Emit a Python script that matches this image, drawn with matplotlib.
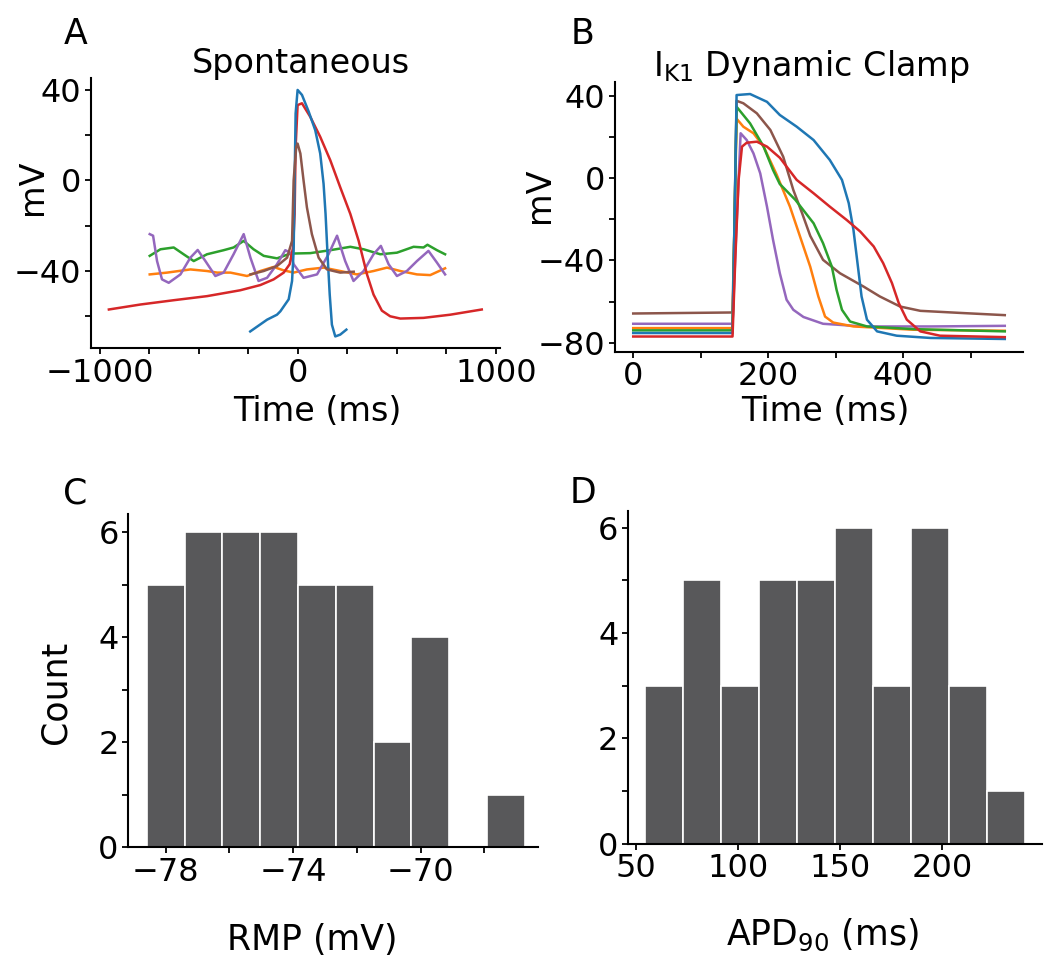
import matplotlib
matplotlib.use("Agg")
import matplotlib.pyplot as plt
from matplotlib.ticker import FixedLocator
import numpy as np

plt.rcParams['font.family'] = ['DejaVu Sans']
plt.rcParams['mathtext.default'] = 'regular'

# ---- panel A: spontaneous traces (time ms, voltage mV) ----
a_red_t = [-953, -794, -626, -458, -290, -189, -122, -71, -41, -24, -16, -11, -1, 21, 63, 113,
           164, 214, 265, 307, 349, 382, 424, 466, 517, 634, 769, 928]
a_red_v = [-57.0, -54.8, -52.9, -51.1, -48.5, -46.2, -43.7, -40.7, -37.0, -29.6, -14.8, 14.8, 33.3,
           34.1, 28.1, 19.3, 8.9, -3.0, -14.8, -26.7, -41.5, -50.4, -57.5, -60.0, -61.0, -60.7, -59.3, -57.0]
a_blue_t = [-240, -155, -105, -88, -46, -29, -21, -16, -11, -1, 21, 55, 88, 113, 130, 140, 150, 161,
            172, 189, 214, 245]
a_blue_v = [-66.7, -61.5, -59.3, -57.8, -52.5, -44.4, -31.0, 0.0, 29.6, 40.0, 37.8, 30.4, 22.2, 11.9,
            -1.5, -14.8, -32.6, -50.4, -63.7, -68.9, -68.1, -65.9]
a_brown_t = [-239, -172, -105, -54, -29, -21, -8, -1, 13, 29, 46, 71, 105, 147, 214, 282]
a_brown_v = [-41.5, -40.0, -37.8, -34.1, -26.7, 0.0, 14.8, 16.3, 11.9, 0.0, -11.9, -23.7, -34.1,
             -39.3, -40.7, -40.3]
a_green_t = [-747, -693, -626, -576, -525, -458, -374, -324, -273, -223, -172, -105, -38, 63, 164,
             265, 332, 416, 500, 584, 634, 654, 702, 743]
a_green_v = [-33.3, -30.4, -29.6, -32.6, -35.6, -32.6, -30.8, -29.6, -26.7, -30.4, -33.3, -34.4,
             -32.3, -32.1, -30.8, -29.3, -30.4, -32.6, -31.9, -29.3, -29.6, -28.4, -30.8, -32.6]
a_orange_t = [-747, -659, -542, -458, -407, -340, -256, -189, -122, -72, -21, 46, 130, 214, 298,
              382, 450, 517, 601, 668, 743]
a_orange_v = [-41.5, -40.7, -39.3, -40.0, -40.7, -40.7, -42.2, -40.0, -38.2, -39.7, -40.7, -39.3,
              -38.5, -40.0, -41.5, -40.0, -38.5, -40.0, -41.5, -41.8, -38.8]
a_purple_t = [-747, -730, -710, -685, -651, -592, -542, -505, -466, -416, -374, -324, -273, -239,
              -198, -155, -105, -63, -38, -21, 29, 97, 155, 198, 239, 281, 332, 382, 419, 458, 500,
              550, 601, 659, 702, 743]
a_purple_v = [-23.7, -24.4, -35.6, -43.7, -45.2, -41.5, -34.1, -30.7, -35.6, -42.2, -40.7, -32.6,
              -23.7, -34.1, -44.4, -43.0, -37.0, -30.8, -31.9, -37.0, -43.0, -41.5, -32.6, -24.4,
              -35.6, -44.4, -40.0, -32.6, -28.9, -37.0, -42.2, -40.0, -35.6, -31.1, -36.3, -41.5]

# ---- panel B: IK1 dynamic clamp traces ----
b_blue_t = [0, 147, 150, 153, 173, 198, 217, 242, 267, 291, 309, 319, 326, 332, 338, 346, 361, 390, 440, 550]
b_blue_v = [-75.3, -75.3, -20, 40.5, 41.0, 37.2, 30.8, 25.1, 18.6, 8.9, -0.8, -12.1, -25.1, -41.3,
            -57.5, -68.8, -74.5, -76.6, -77.7, -78.2]
b_red_t = [0, 147, 151, 156, 161, 168, 183, 198, 217, 242, 267, 291, 316, 336, 356, 370, 383, 393,
           405, 425, 454, 550]
b_red_v = [-77.0, -77.0, -40, -0.8, 15.4, 17.3, 17.8, 15.4, 10.0, -0.8, -7.3, -13.8, -20.3, -25.9,
           -33.2, -41.3, -51.0, -60.7, -68.8, -74.5, -76.6, -77.3]
b_brown_t = [0, 147, 150, 153, 163, 183, 203, 222, 237, 250, 262, 281, 306, 341, 365, 395, 425, 489, 550]
b_brown_v = [-65.8, -65.3, -20, 37.7, 36.5, 31.6, 23.5, 10.5, -5.7, -17.0, -28.0, -39.7, -46.2,
             -52.7, -57.5, -62.4, -64.5, -65.6, -66.6]
b_green_t = [0, 147, 150, 153, 173, 193, 207, 217, 240, 267, 281, 294, 301, 309, 321, 346, 415, 550]
b_green_v = [-74.0, -74.0, -20, 34.8, 26.7, 15.4, 4.0, -2.8, -10.5, -21.9, -31.6, -43.0, -54.3,
             -64.0, -69.7, -72.1, -73.4, -74.5]
b_orange_t = [0, 147, 150, 153, 163, 178, 193, 212, 232, 247, 262, 274, 284, 296, 326, 415, 550]
b_orange_v = [-72.9, -72.9, -20, 29.0, 25.1, 21.9, 15.4, 2.0, -13.8, -28.4, -43.0, -57.5, -67.3,
              -70.2, -72.1, -73.7, -74.2]
b_purple_t = [0, 147, 152, 159, 168, 178, 188, 198, 207, 217, 227, 237, 252, 281, 341, 440, 550]
b_purple_v = [-70.8, -70.8, -30, 21.9, 18.6, 12.1, 2.4, -13.8, -30.0, -46.2, -59.1, -64.0, -67.5,
              -70.8, -72.1, -72.1, -71.8]

# ---- panels C, D: histograms ----
rmp_edges = [-78.60, -77.41, -76.23, -75.04, -73.86, -72.67, -71.48, -70.30, -69.11, -67.93, -66.74]
rmp_counts = [5, 6, 6, 6, 5, 5, 2, 4, 0, 1]
apd_edges = [54.7, 73.2, 91.8, 110.3, 128.9, 147.4, 166.0, 184.5, 203.1, 221.6, 240.2]
apd_counts = [3, 5, 3, 5, 5, 6, 3, 6, 3, 1]

C_BLUE, C_ORANGE, C_GREEN = '#1f77b4', '#ff7f0e', '#2ca02c'
C_RED, C_PURPLE, C_BROWN = '#d62728', '#9467bd', '#8c564b'
BAR = '#58585a'

fig = plt.figure(figsize=(10.5, 9.61), dpi=100)
axA = fig.add_axes([0.0867, 0.6379, 0.3895, 0.2810])
axB = fig.add_axes([0.5857, 0.6340, 0.3886, 0.2810])
axC = fig.add_axes([0.1223, 0.1186, 0.3901, 0.3463])
axD = fig.add_axes([0.5981, 0.1220, 0.3939, 0.3465])


def style(ax, fs):
    for s in ['top', 'right']:
        ax.spines[s].set_visible(False)
    for s in ['left', 'bottom']:
        ax.spines[s].set_linewidth(1.5)
    ax.tick_params(which='both', direction='out', length=4, width=1.3, labelsize=fs, pad=3)


lw = 1.8
for t, v, c in [(a_green_t, a_green_v, C_GREEN), (a_orange_t, a_orange_v, C_ORANGE),
                (a_purple_t, a_purple_v, C_PURPLE), (a_red_t, a_red_v, C_RED),
                (a_blue_t, a_blue_v, C_BLUE), (a_brown_t, a_brown_v, C_BROWN)]:
    axA.plot(t, v, color=c, lw=lw)
axA.set_xlim(-1043, 1020)
axA.set_ylim(-74, 45.3)
axA.set_xticks([-1000, 0, 1000])
axA.xaxis.set_minor_locator(FixedLocator([-750, -500, -250, 250, 500, 750]))
axA.set_yticks([-40, 0, 40])
axA.yaxis.set_minor_locator(FixedLocator([-60, -20, 20]))
style(axA, 23)
axA.set_xlabel('Time (ms)', fontsize=24, va='center')
axA.xaxis.set_label_coords(0.554, -0.237)
axA.set_ylabel('mV', fontsize=24, va='center')
axA.yaxis.set_label_coords(-0.142, 0.596)
axA.text(0.513, 1.0185, 'Spontaneous', transform=axA.transAxes, ha='center', va='baseline', fontsize=24)

for t, v, c in [(b_brown_t, b_brown_v, C_BROWN), (b_purple_t, b_purple_v, C_PURPLE),
                (b_orange_t, b_orange_v, C_ORANGE), (b_green_t, b_green_v, C_GREEN),
                (b_blue_t, b_blue_v, C_BLUE), (b_red_t, b_red_v, C_RED)]:
    axB.plot(t, v, color=c, lw=lw)
axB.set_xlim(-27, 577)
axB.set_ylim(-84.4, 47)
axB.set_xticks([0, 200, 400])
axB.xaxis.set_minor_locator(FixedLocator([100, 300, 500]))
axB.set_yticks([-80, -40, 0, 40])
axB.yaxis.set_minor_locator(FixedLocator([-60, -20, 20]))
style(axB, 23)
axB.set_xlabel('Time (ms)', fontsize=24, va='center')
axB.xaxis.set_label_coords(0.515, -0.223)
axB.set_ylabel('mV', fontsize=24, va='center')
axB.yaxis.set_label_coords(-0.184, 0.580)
axB.text(0.48, 1.02, r'I$_{K1}$ Dynamic Clamp', transform=axB.transAxes, ha='center',
         va='baseline', fontsize=24)

axC.bar(rmp_edges[:-1], rmp_counts, width=np.diff(rmp_edges), align='edge', color=BAR,
        edgecolor='white', linewidth=1.2)
axC.set_xlim(-79.17, -66.32)
axC.set_ylim(0, 6.34)
axC.set_xticks([-78, -74, -70])
axC.xaxis.set_minor_locator(FixedLocator([-76, -72, -68]))
axC.set_yticks([0, 2, 4, 6])
axC.yaxis.set_minor_locator(FixedLocator([1, 3, 5]))
style(axC, 23)
axC.set_xlabel('RMP (mV)', fontsize=25, va='center')
axC.xaxis.set_label_coords(0.45, -0.279)
axC.set_ylabel('Count', fontsize=25, va='center')
axC.yaxis.set_label_coords(-0.179, 0.464)

axD.bar(apd_edges[:-1], apd_counts, width=np.diff(apd_edges), align='edge', color=BAR,
        edgecolor='white', linewidth=1.2)
axD.set_xlim(46.3, 248.5)
axD.set_ylim(0, 6.32)
axD.set_xticks([50, 100, 150, 200])
axD.set_yticks([0, 2, 4, 6])
axD.yaxis.set_minor_locator(FixedLocator([1, 3, 5]))
style(axD, 23)
axD.set_xlabel(r'APD$_{90}$ (ms)', fontsize=25, va='center')
axD.xaxis.set_label_coords(0.47, -0.275)

for x, y, s in [(75.5, 44, 'A'), (583, 44, 'B'), (75, 503, 'C'), (583, 503, 'D')]:
    fig.text(x / 1050, 1 - y / 961, s, ha='center', va='baseline', fontsize=25)

fig.savefig('out.png', dpi=100)
